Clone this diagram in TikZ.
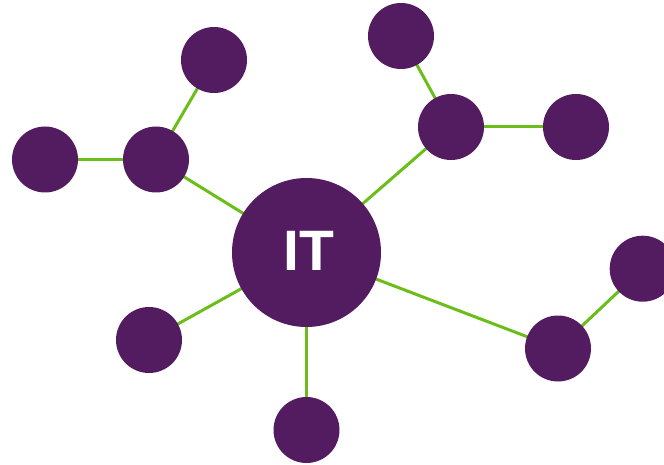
\documentclass[tikz,border=0pt]{standalone}
\usepackage{fontspec}
\setmainfont{Liberation Sans}
\usetikzlibrary{backgrounds}
\definecolor{nodepurple}{HTML}{541C60}
\definecolor{linkgreen}{HTML}{6BBE1A}
\begin{document}
\begin{tikzpicture}[x=1pt,y=-1pt,
  dot/.style={circle,fill=nodepurple,draw=none,minimum size=66pt,inner sep=0pt},
  hub/.style={circle,fill=nodepurple,draw=none,minimum size=149pt,inner sep=0pt,
    text=white,font=\fontsize{57}{57}\selectfont\bfseries},
  link/.style={draw=linkgreen,line width=3pt}]
\useasboundingbox (0,0) rectangle (664,465);
\node[hub] (it) at (306.5,252.5) {};
\node[text=white,font=\fontsize{57}{57}\selectfont\bfseries,inner sep=0pt] (itlabel) at (308.5,251.2) {IT};
\node[dot] (lh) at (156,159.5) {};
\node[dot] (fl) at (45,159.5) {};
\node[dot] (tl) at (214,60) {};
\node[dot] (th) at (451,127) {};
\node[dot] (tt) at (401,36) {};
\node[dot] (tr) at (576,127) {};
\node[dot] (lb) at (149,340) {};
\node[dot] (bb) at (306.5,430) {};
\node[dot] (rb) at (558,348.5) {};
\node[dot] (fr) at (642.7,268.7) {};
\begin{pgfonlayer}{background}
\draw[link] (it.center) -- (lh.center);
\draw[link] (lh.center) -- (fl.center);
\draw[link] (lh.center) -- (tl.center);
\draw[link] (it.center) -- (th.center);
\draw[link] (th.center) -- (tt.center);
\draw[link] (th.center) -- (tr.center);
\draw[link] (it.center) -- (lb.center);
\draw[link] (it.center) -- (bb.center);
\draw[link] (it.center) -- (rb.center);
\draw[link] (rb.center) -- (fr.center);
\end{pgfonlayer}
\end{tikzpicture}
\end{document}
